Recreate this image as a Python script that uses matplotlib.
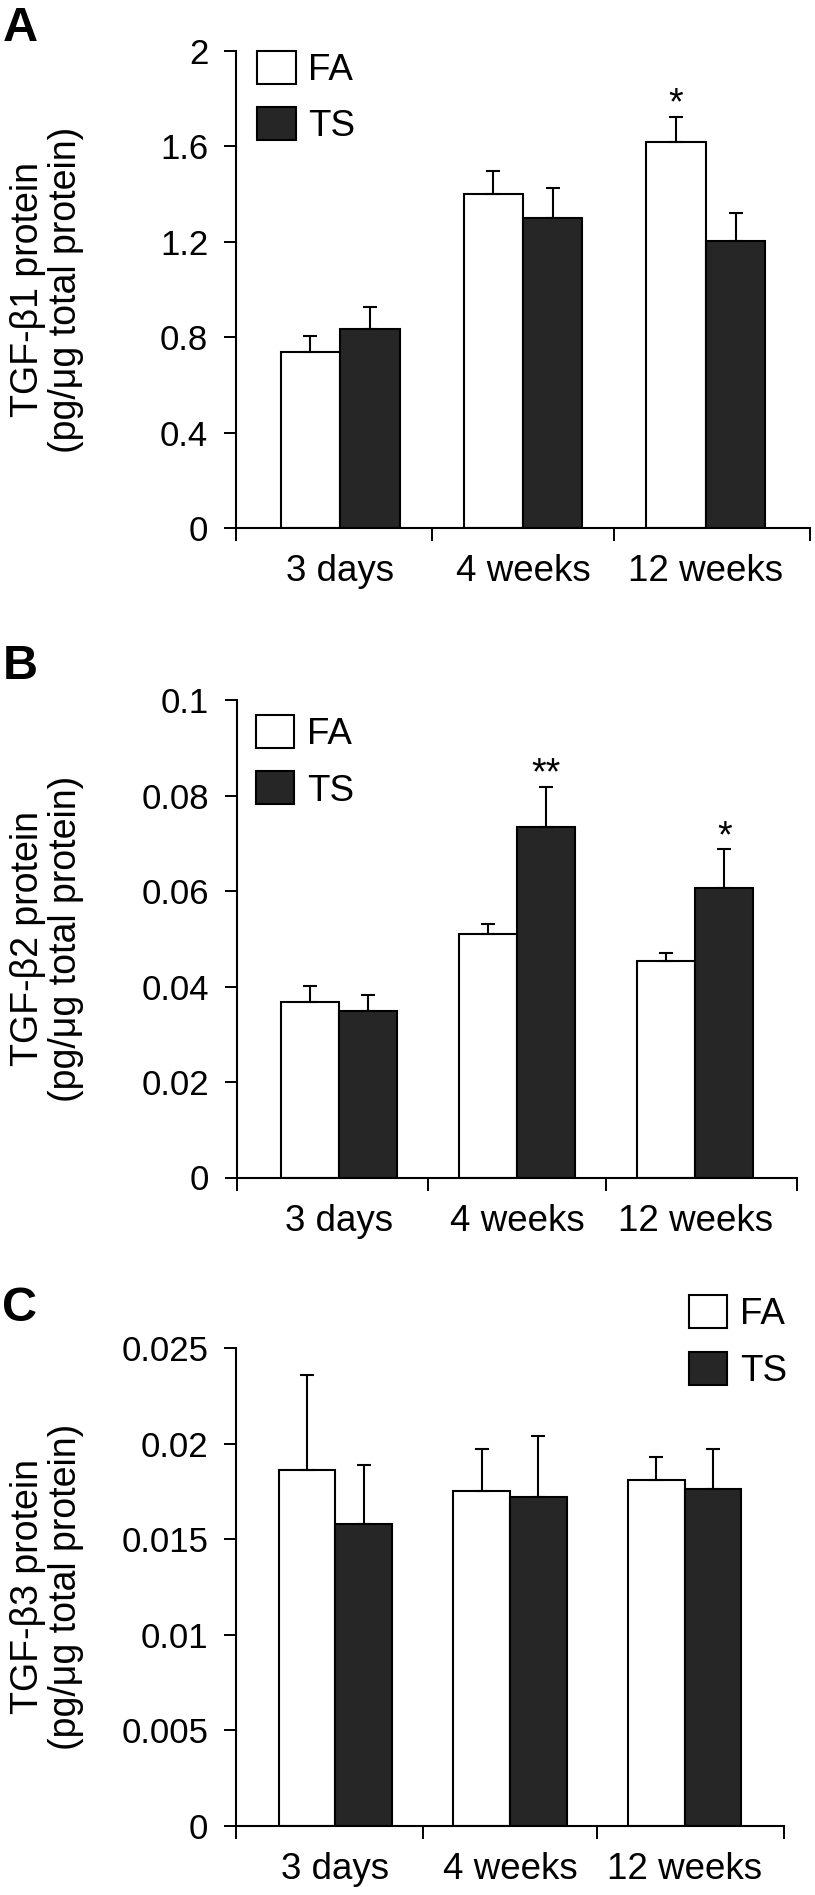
import matplotlib
matplotlib.use('Agg')
import matplotlib.pyplot as plt
from matplotlib.patches import Patch
import numpy as np

plt.rcParams['font.family'] = ['Liberation Sans', 'DejaVu Sans']

# data
groups = ['3 days', '4 weeks', '12 weeks']

fa_b1 = [0.74, 1.40, 1.62]
fa_b1_err = [0.065, 0.095, 0.105]
ts_b1 = [0.835, 1.30, 1.205]
ts_b1_err = [0.09, 0.125, 0.115]

fa_b2 = [0.0367, 0.0509, 0.0454]
fa_b2_err = [0.0035, 0.0021, 0.0016]
ts_b2 = [0.0349, 0.0735, 0.0606]
ts_b2_err = [0.0033, 0.0083, 0.0081]

fa_b3 = [0.0186, 0.0175, 0.0181]
fa_b3_err = [0.0050, 0.0022, 0.0012]
ts_b3 = [0.0158, 0.0172, 0.0176]
ts_b3_err = [0.0031, 0.0032, 0.0021]

yt1 = [0, 0.4, 0.8, 1.2, 1.6, 2]
yt1_lab = ['0', '0.4', '0.8', '1.2', '1.6', '2']
yt2 = [0, 0.02, 0.04, 0.06, 0.08, 0.1]
yt2_lab = ['0', '0.02', '0.04', '0.06', '0.08', '0.1']
yt3 = [0, 0.005, 0.01, 0.015, 0.02, 0.025]
yt3_lab = ['0', '0.005', '0.01', '0.015', '0.02', '0.025']

# significance marks: (group index, series, text)
stars_b1 = [(2, 'FA', '*')]
stars_b2 = [(1, 'TS', '**'), (2, 'TS', '*')]
stars_b3 = []

DARK = '#262626'
W = 0.325
XL = (-0.57, 2.57)
FS = 25
LEG_FS = 26.5

fig = plt.figure(figsize=(8.15, 18.95), dpi=100)
H = 1895.0


def panel(rect, fa, fa_err, ts, ts_err, yt, ytl, stars, ylab, letter, letter_y, leg_xy):
    ax = fig.add_axes(rect)
    x = np.arange(len(groups))
    ek = dict(capsize=5, elinewidth=1.5, capthick=1.5, ecolor='black')
    ax.bar(x - W / 2, fa, W, color='white', edgecolor='black', linewidth=1.5,
           yerr=[np.zeros(3), fa_err], error_kw=ek, zorder=2)
    ax.bar(x + W / 2, ts, W, color=DARK, edgecolor='black', linewidth=1.5,
           yerr=[np.zeros(3), ts_err], error_kw=ek, zorder=2)

    for gi, ser, txt in stars:
        if ser == 'FA':
            xs, top = gi - W / 2, fa[gi] + fa_err[gi]
        else:
            xs, top = gi + W / 2, ts[gi] + ts_err[gi]
        ax.annotate(txt, (xs, top), xytext=(0, -4), textcoords='offset points',
                    ha='center', va='bottom', fontsize=27)

    ax.set_xlim(*XL)
    ax.set_ylim(yt[0], yt[-1])
    ax.set_yticks(yt)
    ax.set_yticklabels(ytl)
    ax.set_xticks([XL[0], 0.5, 1.5, XL[1]])
    ax.set_xticklabels([])
    ax.set_xticks(x, minor=True)
    ax.set_xticklabels(groups, minor=True)
    ax.tick_params(axis='x', which='minor', length=0, pad=19, labelsize=26.5)
    ax.tick_params(axis='x', which='major', length=9, width=1.4, direction='out')
    ax.tick_params(axis='y', length=9, width=1.4, direction='out', pad=11, labelsize=FS)
    for s in ['top', 'right']:
        ax.spines[s].set_visible(False)
    for s in ['left', 'bottom']:
        ax.spines[s].set_linewidth(1.5)

    handles = [Patch(facecolor='white', edgecolor='black', linewidth=1.5, label='FA'),
               Patch(facecolor=DARK, edgecolor='black', linewidth=1.5, label='TS')]
    ax.legend(handles=handles, loc='upper left', bbox_to_anchor=leg_xy, frameon=False,
              fontsize=LEG_FS, handlelength=1.04, handleheight=1.0, handletextpad=0.35,
              labelspacing=0.52, borderpad=0, borderaxespad=0)

    yc = rect[1] + rect[3] / 2
    fig.text(47 / 815, yc, ylab, rotation=90, ha='center', va='center',
             fontsize=27, linespacing=1.05, multialignment='center')
    fig.text(0.003, 1 - letter_y / H, letter, fontsize=35, fontweight='bold',
             ha='left', va='top')
    return ax


panel([236 / 815, 1 - 528 / H, 574 / 815, 477 / H], fa_b1, fa_b1_err, ts_b1, ts_b1_err,
      yt1, yt1_lab, stars_b1, 'TGF-\u03b21 protein\n(pg/\u03bcg total protein)', 'A', 6,
      (0.037, 1.0))
panel([237 / 815, 1 - 1177.5 / H, 560 / 815, 477.5 / H], fa_b2, fa_b2_err, ts_b2, ts_b2_err,
      yt2, yt2_lab, stars_b2, 'TGF-\u03b22 protein\n(pg/\u03bcg total protein)', 'B', 644,
      (0.034, 0.968))
panel([236 / 815, 1 - 1826 / H, 548 / 815, 478 / H], fa_b3, fa_b3_err, ts_b3, ts_b3_err,
      yt3, yt3_lab, stars_b3, 'TGF-\u03b23 protein\n(pg/\u03bcg total protein)', 'C', 1286,
      (0.827, 1.11))

fig.savefig('out.png', dpi=100)
